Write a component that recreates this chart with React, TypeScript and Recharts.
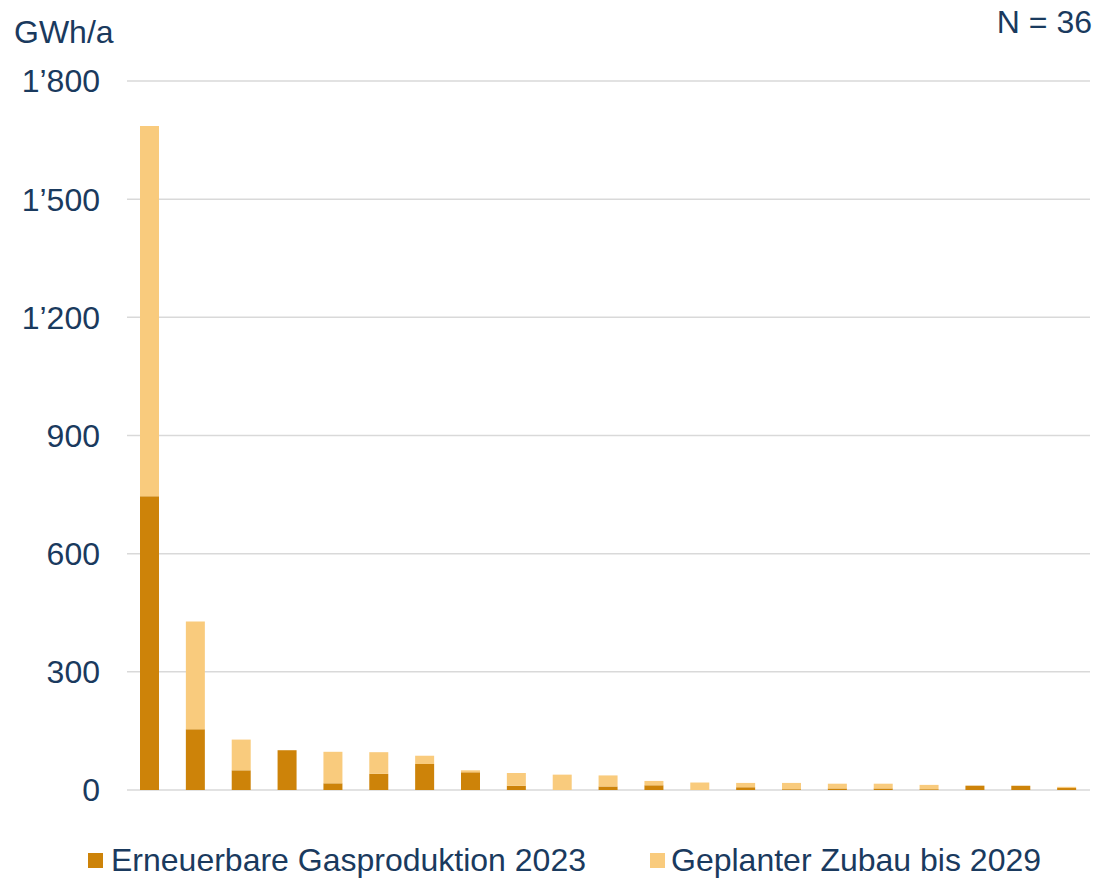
import React from "react";
import { BarChart, Bar, XAxis, YAxis, CartesianGrid, Legend } from "recharts";

const categories = ["1","2","3","4","5","6","7","8","9","10","11","12","13","14","15","16","17","18","19","20","21"];
const production2023 = [746, 154, 50, 101, 17, 41, 66, 45, 11, 0, 9, 12, 0, 7, 2, 4, 4, 2, 11, 11, 5];
const plannedAddition = [940, 274, 78, 0, 80, 55, 21, 5, 32, 39, 28, 11, 19, 11, 16, 12, 12, 11, 0, 0, 3];
const yTicks = [0, 300, 600, 900, 1200, 1500, 1800];
const seriesNames = ["Erneuerbare Gasproduktion 2023", "Geplanter Zubau bis 2029"];
const unitLabel = "GWh/a";
const countLabel = "N = 36";

const DARK = "#CD8309";
const LIGHT = "#F9CB7D";
const TEXT = "#1A3A5E";
const FONT = "'Liberation Sans', Arial, sans-serif";

const data = categories.map((c, i) => ({
  name: c,
  prod: production2023[i],
  plan: plannedAddition[i],
}));

const fmt = (v: number) => {
  const s = String(v);
  return s.length > 3 ? s.slice(0, s.length - 3) + "\u2019" + s.slice(s.length - 3) : s;
};

const LegendContent = () => (
  <div style={{ position: "relative", width: 1097, height: 40, fontFamily: FONT, fontSize: 32, color: TEXT }}>
    <div style={{ position: "absolute", left: 88, top: 13, width: 15, height: 15, background: DARK }} />
    <div style={{ position: "absolute", left: 111, top: 0, lineHeight: "40px", whiteSpace: "nowrap" }}>{seriesNames[0]}</div>
    <div style={{ position: "absolute", left: 650, top: 13, width: 15, height: 15, background: LIGHT }} />
    <div style={{ position: "absolute", left: 671, top: 0, lineHeight: "40px", whiteSpace: "nowrap" }}>{seriesNames[1]}</div>
  </div>
);

export default function App() {
  return (
    <div style={{ position: "absolute", left: 0, top: 0, width: 1097, height: 878, background: "#fff" }}>
      <BarChart width={1097} height={878} data={data} margin={{ top: 81, right: 7, left: 0, bottom: 88 }}>
        <CartesianGrid vertical={false} stroke="#d9d9d9" strokeWidth={1.5} />
        <XAxis dataKey="name" height={0} tick={false} tickLine={false} axisLine={{ stroke: "#d9d9d9", strokeWidth: 2 }} />
        <YAxis
          width={127}
          domain={[0, 1800]}
          ticks={yTicks}
          tickFormatter={fmt}
          axisLine={false}
          tickLine={false}
          tickSize={0}
          tickMargin={27}
          tick={{ fill: TEXT, fontSize: 32, fontFamily: FONT }}
        />
        <Legend
          layout="horizontal"
          verticalAlign="middle"
          align="center"
          wrapperStyle={{ top: 840, left: 0, width: 1097 }}
          content={<LegendContent />}
        />
        <Bar dataKey="prod" name={seriesNames[0]} stackId="a" fill={DARK} barSize={19} isAnimationActive={false} />
        <Bar dataKey="plan" name={seriesNames[1]} stackId="a" fill={LIGHT} barSize={19} isAnimationActive={false} />
      </BarChart>
      <svg width={1097} height={878} style={{ position: "absolute", left: 0, top: 0, pointerEvents: "none" }}>
        <text x={14} y={43} fill={TEXT} fontSize={32} fontFamily={FONT}>{unitLabel}</text>
        <text x={1092} y={33} fill={TEXT} fontSize={32} fontFamily={FONT} textAnchor="end">{countLabel}</text>
      </svg>
    </div>
  );
}
